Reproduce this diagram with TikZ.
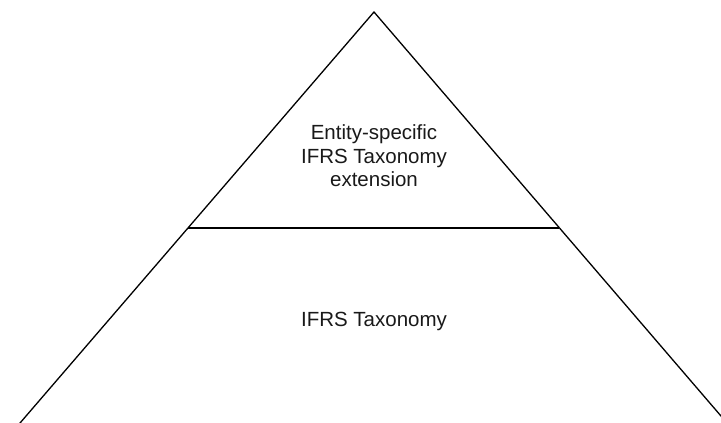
\documentclass[tikz,border=0pt]{standalone}
\usepackage{fontspec}
\setmainfont{Liberation Sans}
\begin{document}
\begin{tikzpicture}[x=1pt,y=-1pt,
  side/.style={draw=black,line width=1.3pt},
  divider/.style={draw=black,line width=2.4pt},
  label/.style={align=center,font=\fontsize{20.5}{23.5}\selectfont,text=black!90,inner sep=0pt}]
\path[use as bounding box] (0,0) rectangle (721,423);
\clip (0,0) rectangle (721,423);
\coordinate (apex) at (374,12);
\coordinate (bl) at (14,430);
\coordinate (br) at (733,430);
\coordinate (dl) at (188,228);
\coordinate (dr) at (559,228);
\draw[side] (bl) -- (apex) -- (br);
\draw[divider] (dl) -- (dr);
\node[label] (ext) at (374,156) {Entity-specific\\IFRS Taxonomy\\extension};
\node[label] (base) at (374,321) {IFRS Taxonomy};
\end{tikzpicture}
\end{document}
